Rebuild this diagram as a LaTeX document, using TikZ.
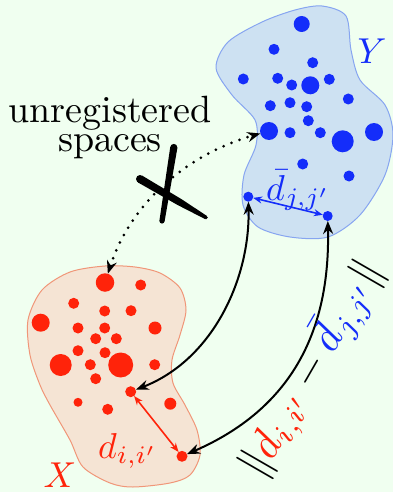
\documentclass[tikz,border=0pt]{standalone}
\usepackage{graphicx}
\usetikzlibrary{arrows.meta}
\definecolor{bg}{RGB}{240,255,240}
\definecolor{myblue}{RGB}{20,45,250}
\definecolor{myred}{RGB}{255,35,10}
\definecolor{bluefill}{RGB}{205,225,242}
\definecolor{blueline}{RGB}{135,165,240}
\definecolor{redfill}{RGB}{245,228,212}
\definecolor{redline}{RGB}{240,150,120}
\newcommand{\bigsc}[1]{\scalebox{3.6}{#1}}
\tikzset{
  bdot/.style={circle, fill=myblue, inner sep=0pt, outer sep=0pt},
  rdot/.style={circle, fill=myred, inner sep=0pt, outer sep=0pt},
  blk/.style={line width=2pt, {Stealth[length=13pt,width=10pt]}-{Stealth[length=13pt,width=10pt]}},
  dotarrow/.style={line width=3pt, line cap=round, dash pattern=on 0pt off 8.5pt,
    {Stealth[length=13pt,width=10pt]}-{Stealth[length=13pt,width=10pt]}},
  redarr/.style={myred, line width=1.6pt, {Stealth[length=9pt,width=7pt]}-{Stealth[length=9pt,width=7pt]}},
  bluearr/.style={myblue, line width=1.6pt, {Stealth[length=9pt,width=7pt]}-{Stealth[length=9pt,width=7pt]}},
  lab/.style={inner sep=0pt},
}
\begin{document}
\begin{tikzpicture}[x=1pt,y=-1pt]
\fill[bg] (0,0) rectangle (393,492);
\useasboundingbox (0,0) rectangle (393,492);

% blobs
\draw[blueline, fill=bluefill, line width=1pt] plot[smooth cycle] coordinates {
 (322,6) (346,16) (351,50) (360,80) (385,105) (393,135) (385,175) (360,215)
 (328,237) (290,237) (258,227) (243,205) (244,175) (256,145) (255,120)
 (232,95) (216,68) (228,42) (262,22) (295,10)};
\draw[redline, fill=redfill, line width=1pt] plot[smooth cycle] coordinates {
 (105,266) (135,267) (160,273) (180,288) (186,310) (180,335) (172,360)
 (173,383) (185,405) (197,430) (200,455) (190,475) (170,483) (133,487)
 (110,483) (83,467) (70,440) (50,405) (40,385) (30,355) (28,320) (42,290) (70,272)};

% blue dots
\foreach \x/\y/\r in {301.7/24/8, 274/49.3/5.5, 312.7/62.7/5.5, 243.3/79/5.5,
  277.7/78.3/5.5, 291.7/85/5.5, 310.3/85.3/9, 329.3/79.3/5.5, 348.3/99/5.5,
  270.3/105.7/5.5, 290/102.7/5.5, 306.7/106.7/5.5, 308.3/120.7/5.5,
  290/132.7/5.5, 320.3/132.7/5.5, 342.7/141.3/11, 374/132/9,
  302.7/164/5.5, 349/176/5.5}
  \fill[myblue] (\x,\y) circle[radius=\r];
\node[bdot, minimum size=18pt] (bmid) at (269,131) {};
\node[bdot, minimum size=10pt] (b1) at (248.3,196.7) {};
\node[bdot, minimum size=10pt] (b2) at (327.7,216) {};

% red dots
\foreach \x/\y/\r in {140.7/285/5.5, 73.7/303.3/5.5, 104.7/311/5.5, 131/310.7/5.5,
  40.7/322.7/9, 78/328/5.5, 104.7/328/5.5, 155/328/6.5, 95.7/338.7/5.5,
  116.3/338.7/5.5, 78/350.7/5.5, 105/352.7/5.5, 60.7/365/11, 90.3/364.7/5.5,
  120.7/365/12.5, 154.7/364.7/5.5, 95.7/378.7/5.5, 78/402.3/4.5,
  107.7/409.3/5.5, 170.3/403.7/6}
  \fill[myred] (\x,\y) circle[radius=\r];
\node[rdot, minimum size=18.5pt] (rtop) at (105,282.5) {};
\node[rdot, minimum size=11pt] (r1) at (130.7,391.7) {};
\node[rdot, minimum size=11pt] (r2) at (182,456.3) {};

% local distance arrows
\draw[bluearr] (b1) -- (b2);
\draw[redarr] (r1) -- (r2);

% correspondence arrows
\draw[blk] (b1) .. controls (250,280) and (212,360) .. (r1);
\draw[blk] (b2) .. controls (330,320) and (300,405) .. (r2);

% dotted arrow
\draw[dotarrow] (rtop) .. controls (130,205) and (185,155) .. (bmid);

% the cross (two brush strokes)
\fill[black] (173.8,147.5) circle[radius=3.6];
\fill[black] (162,221) circle[radius=2.6];
\fill[black] (177.35,148.07) -- (164.57,221.41) -- (159.43,220.59) -- (170.25,146.93) -- cycle;
\fill[black] (140,179) circle[radius=4];
\fill[black] (206,217.5) circle[radius=1.8];
\fill[black] (137.98,182.46) -- (177.84,205.12) -- (205.09,219.06) -- (206.91,215.94)
  -- (181.36,199.08) -- (142.02,175.54) -- cycle;

% labels
\node[lab, anchor=base] (unreg) at (110,122.7)
  {\scalebox{3.8}{\begin{tabular}[t]{@{}c@{}}unregistered\\[-4.4pt]spaces\end{tabular}}};
\node[lab, myblue] (Ylab) at (372,51) {\bigsc{$Y$}};
\node[lab, myred] (Xlab) at (60,475) {\bigsc{$X$}};
\node[lab, myred, anchor=base west] (dlab) at (98,458) {\bigsc{$d_{i,i'}$}};
\node[lab, myblue, anchor=base west] (dbarlab) at (266,200) {\bigsc{$\bar d_{j,j'}$}};
\node[lab, rotate=60] (norm) at (312,369)
  {\scalebox{4.3}{$\|{\color{myred}d_{i,i'}} - {\color{myblue}\bar d_{j,j'}}\|$}};
\end{tikzpicture}
\end{document}
